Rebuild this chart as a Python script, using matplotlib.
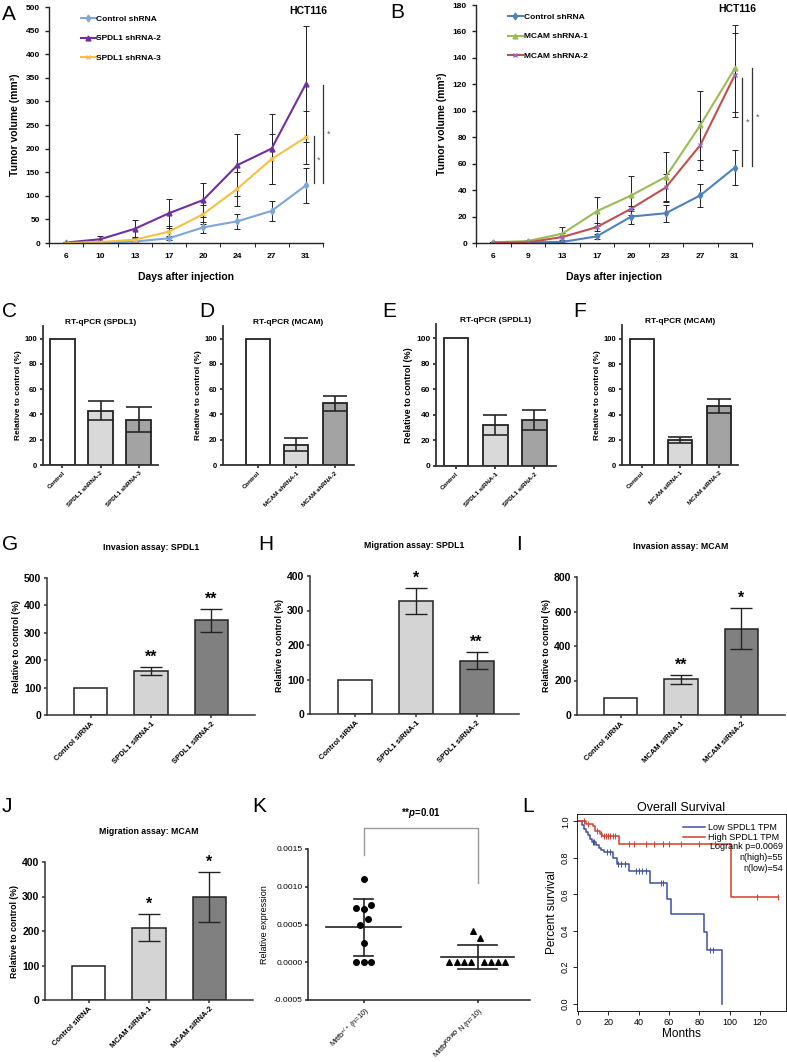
import numpy as np
import matplotlib
matplotlib.use('Agg')
import matplotlib.pyplot as plt
from matplotlib.lines import Line2D

plt.rcParams['font.family'] = ['Liberation Sans', 'DejaVu Sans']
plt.rcParams['mathtext.fontset'] = 'custom'
plt.rcParams['mathtext.rm'] = 'Liberation Sans'
plt.rcParams['mathtext.it'] = 'Liberation Sans:bold:italic'
plt.rcParams['mathtext.bf'] = 'Liberation Sans:bold'

# ---- data ----
days_a = ['6', '10', '13', '17', '20', '24', '27', '31']
ctrl_a = [0, 1, 3, 10, 33, 46, 68, 122]
ctrl_a_err = [0, 1, 1, 4, 12, 16, 22, 37]
sp2_a = [1, 8, 30, 63, 91, 165, 200, 337]
sp2_a_err = [1, 7, 18, 31, 36, 66, 74, 122]
sp3_a = [0, 2, 7, 24, 61, 115, 178, 224]
sp3_a_err = [0, 2, 4, 11, 20, 36, 52, 56]

days_b = ['6', '9', '13', '17', '20', '23', '27', '31']
ctrl_b = [0.3, 0.5, 0.8, 5, 20, 22.5, 36, 57]
ctrl_b_err = [0.3, 0.5, 0.5, 2, 5.5, 6.5, 9, 13.5]
m1_b = [0.5, 1.5, 7, 24, 36, 50, 89, 132]
m1_b_err = [0.5, 0.8, 5, 11, 15, 19, 26, 33]
m2_b = [0.3, 0.5, 4.5, 12, 26, 42, 74, 127]
m2_b_err = [0.3, 0.5, 3, 3, 2, 10, 18.5, 32]

labels_c = ['Control', 'SPDL1 shRNA-2', 'SPDL1 shRNA-3']
vals_c = [100, 43, 36]
err_c = [0, 7.5, 10]
labels_d = ['Control', 'MCAM shRNA-1', 'MCAM shRNA-2']
vals_d = [100, 16, 49]
err_d = [0, 5, 6]
labels_e = ['Control', 'SPDL1 siRNA-1', 'SPDL1 siRNA-2']
vals_e = [100, 32, 36]
err_e = [0, 8, 7.5]
labels_f = ['Control', 'MCAM siRNA-1', 'MCAM siRNA-2']
vals_f = [100, 20, 47]
err_f = [0, 2.5, 5.5]

labels_g = ['Control siRNA', 'SPDL1 siRNA-1', 'SPDL1 siRNA-2']
vals_g = [100, 160, 345]
err_g = [0, 15, 42]
stars_g = ['', '**', '**']
labels_h = ['Control siRNA', 'SPDL1 siRNA-1', 'SPDL1 siRNA-2']
vals_h = [100, 328, 155]
err_h = [0, 38, 25]
stars_h = ['', '*', '**']
labels_i = ['Control siRNA', 'MCAM siRNA-1', 'MCAM siRNA-2']
vals_i = [100, 207, 500]
err_i = [0, 25, 120]
stars_i = ['', '**', '*']
labels_j = ['Control siRNA', 'MCAM siRNA-1', 'MCAM siRNA-2']
vals_j = [100, 210, 298]
err_j = [0, 39, 72]
stars_j = ['', '*', '*']

wt_k = [0.0011, 0.00072, 0.00071, 0.00076, 0.00057, 0.0005, 0.00025, 0, 0, 0]
wt_k_jit = [0, -0.067, 0, 0.067, 0.035, -0.035, 0, -0.067, 0, 0.067]
ko_k = [0.00042, 0.00032, 0, 0, 0, 0, 0, 0, 0, 0]
ko_k_jit = [-0.045, 0.025, -0.25, -0.18, -0.12, -0.06, 0.06, 0.12, 0.18, 0.24]
groups_k = [r'Mrtfb$^{+/+}$ (n=10)', r'Mrtfb$^{KO/KO}$ N (n=10)']

t_low = [0, 2.5, 4, 5.5, 7, 8, 9.5, 12, 14, 15.5, 17, 23.5, 25.5, 34, 47.5, 58.5, 61.5, 83, 85, 95]
s_low = [1.0, 0.98, 0.96, 0.94, 0.925, 0.905, 0.885, 0.87, 0.855, 0.845, 0.833, 0.80, 0.767,
         0.725, 0.66, 0.575, 0.49, 0.395, 0.295, 0.0]
cens_low = [10, 11, 19, 21, 26.5, 28.5, 31, 38, 40, 42.5, 45, 54.5, 56, 87, 89]
t_high = [0, 5.7, 10, 11.2, 14.5, 16.2, 27, 100.6, 132]
s_high = [1.0, 0.987, 0.975, 0.945, 0.93, 0.917, 0.875, 0.585, 0.585]
cens_high = [4, 7, 12.5, 15, 17, 18.5, 20, 21.5, 23, 24.5, 34, 37, 45, 50, 56, 60, 68, 80, 90, 118, 132]

W, H = 787, 1062
fig = plt.figure(figsize=(W / 100, H / 100), dpi=100)


def ax_px(l, t, r, b):
    return fig.add_axes([l / W, 1 - b / H, (r - l) / W, (b - t) / H])


def letter(x, y, s):
    fig.text(x / W, 1 - y / H, s, fontsize=15, va='center', ha='left')


def style(ax, lw=1.0, col='#333333'):
    for s in ['top', 'right']:
        ax.spines[s].set_visible(False)
    for s in ['left', 'bottom']:
        ax.spines[s].set_linewidth(lw)
        ax.spines[s].set_color(col)
    ax.tick_params(color=col, width=lw)


def line_panel(ax, days, series, ymax, ystep, title):
    x = np.arange(len(days))
    handles = []
    for vals, errs, col, mk, mcol, lab in series:
        ax.errorbar(x, vals, yerr=errs, color=col, lw=1.5, marker=mk, ms=3.5,
                    mfc=mcol, mec=mcol, ecolor='#222222', elinewidth=0.7,
                    capsize=2, capthick=0.7)
        handles.append(Line2D([], [], color=col, lw=1.5, marker=mk, ms=3.5,
                              mfc=mcol, mec=mcol, label=lab))
    ax.set_xlim(-0.5, len(days) - 0.5)
    ax.set_ylim(0, ymax)
    ax.set_yticks(np.arange(0, ymax + 1, ystep))
    ax.set_xticks(x)
    ax.set_xticklabels(days)
    ax.set_xticks(np.arange(-0.5, len(days)), minor=True)
    ax.tick_params(axis='x', which='major', length=0, pad=7)
    ax.tick_params(axis='x', which='minor', length=3, direction='out')
    ax.tick_params(axis='y', length=3, direction='out')
    for t in ax.get_xticklabels() + ax.get_yticklabels():
        t.set_fontsize(6)
        t.set_fontweight('bold')
    style(ax, 1.0, '#222222')
    ax.set_xlabel('Days after injection', fontsize=7.5, fontweight='bold', labelpad=9)
    ax.set_ylabel('Tumor volume (mm³)', fontsize=7.5, fontweight='bold')
    ax.text(0.945, 0.985, title, transform=ax.transAxes, ha='center', va='center',
            fontsize=7.5, fontweight='bold')
    leg = ax.legend(handles=handles, loc='upper left', bbox_to_anchor=(0.1, 0.985),
                    frameon=False, fontsize=6, handlelength=1.8, handletextpad=0.1,
                    labelspacing=1.45, borderpad=0)
    for t in leg.get_texts():
        t.set_fontweight('bold')


# ---- A ----
axA = ax_px(49, 7, 323, 243)
line_panel(axA, days_a, [
    (ctrl_a, ctrl_a_err, '#7ea6d8', 'd', '#7ea6d8', 'Control shRNA'),
    (sp2_a, sp2_a_err, '#7030a0', '^', '#7030a0', 'SPDL1 shRNA-2'),
    (sp3_a, sp3_a_err, '#f4c243', 'x', '#f4c243', 'SPDL1 shRNA-3'),
], 500, 50, 'HCT116')
axA.plot([7.24, 7.24], [127, 227], color='#333333', lw=0.9, clip_on=False)
axA.plot([7.5, 7.5], [127, 335], color='#333333', lw=0.9, clip_on=False)
axA.text(7.36, 175, '*', fontsize=6.5, ha='center', va='center', color='#555555')
axA.text(7.66, 230, '*', fontsize=6.5, ha='center', va='center', color='#555555')
letter(2, 14, 'A')

# ---- B ----
axB = ax_px(476, 5, 752, 243)
line_panel(axB, days_b, [
    (ctrl_b, ctrl_b_err, '#4f81bd', 'd', '#4f81bd', 'Control shRNA'),
    (m1_b, m1_b_err, '#9bbb59', '^', '#9bbb59', 'MCAM shRNA-1'),
    (m2_b, m2_b_err, '#c0504d', 'x', '#9966cc', 'MCAM shRNA-2'),
], 180, 20, 'HCT116')
axB.plot([7.21, 7.21], [58, 125], color='#333333', lw=0.9, clip_on=False)
axB.plot([7.5, 7.5], [58, 132], color='#333333', lw=0.9, clip_on=False)
axB.text(7.36, 91, '*', fontsize=6.5, ha='center', va='center', color='#555555')
axB.text(7.67, 95, '*', fontsize=6.5, ha='center', va='center', color='#555555')
letter(390, 12, 'B')


def bar_panel(ax, labels, vals, errs, colors, ylim, yticks, xlim, width,
              tfs, yfs, lfs, lw, stars=None, star_off=0):
    x = np.arange(len(labels))
    ax.bar(x, vals, width=width, color=colors, edgecolor='#222222', linewidth=lw, zorder=2)
    ax.errorbar(x[1:], vals[1:], yerr=errs[1:], fmt='none', ecolor='#222222',
                elinewidth=lw * 0.9, capsize=width * 14, capthick=lw * 0.9, zorder=3)
    ax.set_xlim(*xlim)
    ax.set_ylim(*ylim)
    ax.set_yticks(yticks)
    ax.set_xticks(x)
    ax.set_xticklabels(labels, rotation=45, ha='right', rotation_mode='anchor')
    ax.tick_params(axis='both', length=2.5, direction='out', pad=1.5)
    for t in ax.get_xticklabels():
        t.set_fontsize(tfs)
        t.set_fontweight('bold')
    for t in ax.get_yticklabels():
        t.set_fontsize(yfs)
        t.set_fontweight('bold')
    style(ax, lw, '#333333')
    ax.set_ylabel('Relative to control (%)', fontsize=lfs, fontweight='bold', labelpad=2)
    if stars:
        for xi, v, e, s in zip(x, vals, errs, stars):
            if s:
                ax.text(xi, v + e + star_off, s, ha='center', va='bottom',
                        fontsize=11.5, fontweight='bold')


gray2 = ['white', '#d9d9d9', '#a3a3a3']
# ---- C-F ----
axC = ax_px(43, 326, 158, 465)
bar_panel(axC, labels_c, vals_c, err_c, gray2, (0, 110), range(0, 101, 20),
          (-0.5, 2.5), 0.65, 4.5, 5.5, 6, 1.3)
axC.set_title('RT-qPCR (SPDL1)', fontsize=6, fontweight='bold', pad=1)
letter(2, 311, 'C')

axD = ax_px(223, 326, 354, 465)
bar_panel(axD, labels_d, vals_d, err_d, gray2, (0, 110), range(0, 101, 20),
          (-0.91, 2.5), 0.63, 4.5, 5.5, 6, 1.3)
axD.set_title('RT-qPCR (MCAM)', fontsize=6, fontweight='bold', pad=1)
letter(199, 311, 'D')

axE = ax_px(436, 324, 556, 466)
bar_panel(axE, labels_e, vals_e, err_e, gray2, (0, 111), range(0, 101, 20),
          (-0.51, 2.55), 0.63, 4.5, 6, 6.5, 1.3)
axE.set_title('RT-qPCR (SPDL1)', fontsize=6, fontweight='bold', pad=1)
letter(382, 311, 'E')

axF = ax_px(622, 325, 738, 465)
bar_panel(axF, labels_f, vals_f, err_f, gray2, (0, 111), range(0, 101, 20),
          (-0.52, 2.5), 0.63, 4.5, 5.5, 6, 1.3)
axF.set_title('RT-qPCR (MCAM)', fontsize=6, fontweight='bold', pad=1)
letter(573, 311, 'F')

gray3 = ['white', '#d4d4d4', '#808080']
# ---- G-I ----
axG = ax_px(47, 578, 255, 715)
bar_panel(axG, labels_g, vals_g, err_g, gray3, (0, 500), range(0, 501, 100),
          (-0.72, 2.72), 0.56, 5.5, 7.5, 6.3, 1.1, stars_g, 8)
axG.set_title('Invasion assay: SPDL1', fontsize=6.3, fontweight='bold', pad=20)
letter(2, 544, 'G')

axH = ax_px(310, 576, 519, 714)
bar_panel(axH, labels_h, vals_h, err_h, gray3, (0, 400), range(0, 401, 100),
          (-0.75, 2.7), 0.56, 5.5, 7.5, 6.3, 1.1, stars_h, 6)
axH.set_title('Migration assay: SPDL1', fontsize=6.3, fontweight='bold', pad=20)
letter(258, 544, 'H')

axI = ax_px(577, 577, 785, 715)
bar_panel(axI, labels_i, vals_i, err_i, gray3, (0, 800), range(0, 801, 200),
          (-0.72, 2.72), 0.56, 5.5, 7.5, 6.3, 1.1, stars_i, 12)
axI.set_title('Invasion assay: MCAM', fontsize=6.3, fontweight='bold', pad=20)
letter(516, 544, 'I')

# ---- J ----
axJ = ax_px(45, 862, 253, 1000)
bar_panel(axJ, labels_j, vals_j, err_j, gray3, (0, 400), range(0, 401, 100),
          (-0.72, 2.72), 0.56, 5.5, 7.5, 6.3, 1.1, stars_j, 6)
axJ.set_title('Migration assay: MCAM', fontsize=6.3, fontweight='bold', pad=20)
letter(2, 806, 'J')

# ---- K ----
axK = ax_px(308, 849, 530, 1000)
axK.scatter(np.array(wt_k_jit), wt_k, marker='o', s=16, color='black', zorder=3)
axK.scatter(1 + np.array(ko_k_jit), ko_k, marker='^', s=16, color='black', zorder=3)
for gi, (vals, hw, cw) in enumerate([(wt_k, 0.33, 0.085), (ko_k, 0.32, 0.17)]):
    m = np.mean(vals)
    sd = np.std(vals, ddof=1)
    axK.plot([gi - hw, gi + hw], [m, m], color='#222222', lw=1.2)
    axK.plot([gi, gi], [m - sd, m + sd], color='#222222', lw=1.2)
    axK.plot([gi - cw, gi + cw], [m + sd, m + sd], color='#222222', lw=1.2)
    axK.plot([gi - cw, gi + cw], [m - sd, m - sd], color='#222222', lw=1.2)
axK.set_xlim(-0.49, 1.46)
axK.set_ylim(-0.0005, 0.0015)
axK.set_yticks([-0.0005, 0, 0.0005, 0.001, 0.0015])
axK.set_yticklabels(['-0.0005', '0.0000', '0.0005', '0.0010', '0.0015'])
axK.set_xticks([0, 1])
axK.set_xticklabels(groups_k, rotation=45, ha='right', rotation_mode='anchor')
axK.tick_params(axis='y', length=2.5, direction='out', labelsize=6, pad=1.5)
axK.tick_params(axis='x', length=2.5, direction='out', labelsize=5.3, pad=1.5)
style(axK, 1.1, '#222222')
axK.set_ylabel('Relative expression', fontsize=6.5, labelpad=3)
axK.plot([0, 0, 1, 1], [0.00142, 0.00178, 0.00178, 0.00105], color='#999999',
         lw=1.0, clip_on=False)
axK.text(0.5, 0.00189, r'**$p$=0.01', ha='center', va='bottom', fontsize=7,
         fontweight='bold')
letter(252, 806, 'K')

# ---- L ----
axL = ax_px(577, 814, 786, 1011)
blue, red = '#3d4f9f', '#d63c2c'
axL.step(t_low, s_low, where='post', color=blue, lw=1.1, label='Low SPDL1 TPM')
axL.step(t_high, s_high, where='post', color=red, lw=1.1, label='High SPDL1 TPM')
for cens, tt, ss, col in [(cens_low, t_low, s_low, blue), (cens_high, t_high, s_high, red)]:
    idx = np.searchsorted(tt, cens, side='right') - 1
    axL.scatter(cens, np.array(ss)[idx], marker='|', s=18, color=col, lw=0.7, zorder=3)
axL.set_xlim(-0.5, 137)
axL.set_ylim(-0.04, 1.04)
axL.set_xticks(range(0, 121, 20))
axL.set_yticks(np.arange(0, 1.01, 0.2))
axL.set_yticklabels(['0.0', '0.2', '0.4', '0.6', '0.8', '1.0'], rotation=90, va='center')
axL.tick_params(axis='both', length=3, direction='out', labelsize=6.5, pad=2, width=0.6)
for s in axL.spines.values():
    s.set_linewidth(0.6)
axL.set_xlabel('Months', fontsize=8.5, labelpad=1)
axL.set_ylabel('Percent survival', fontsize=8.5, labelpad=2)
axL.set_title('Overall Survival', fontsize=9, pad=2)
axL.legend(loc='upper right', bbox_to_anchor=(0.995, 0.98), frameon=False, fontsize=6.5,
           handlelength=2.4, handletextpad=0.4, labelspacing=0.05, borderpad=0.1)
for i, s in enumerate(['Logrank p=0.0069', 'n(high)=55', 'n(low)=54']):
    axL.text(0.985, 0.835 - i * 0.057, s, transform=axL.transAxes, ha='right',
             va='center', fontsize=6.5)
letter(522, 806, 'L')

fig.savefig('out.png', dpi=100)
